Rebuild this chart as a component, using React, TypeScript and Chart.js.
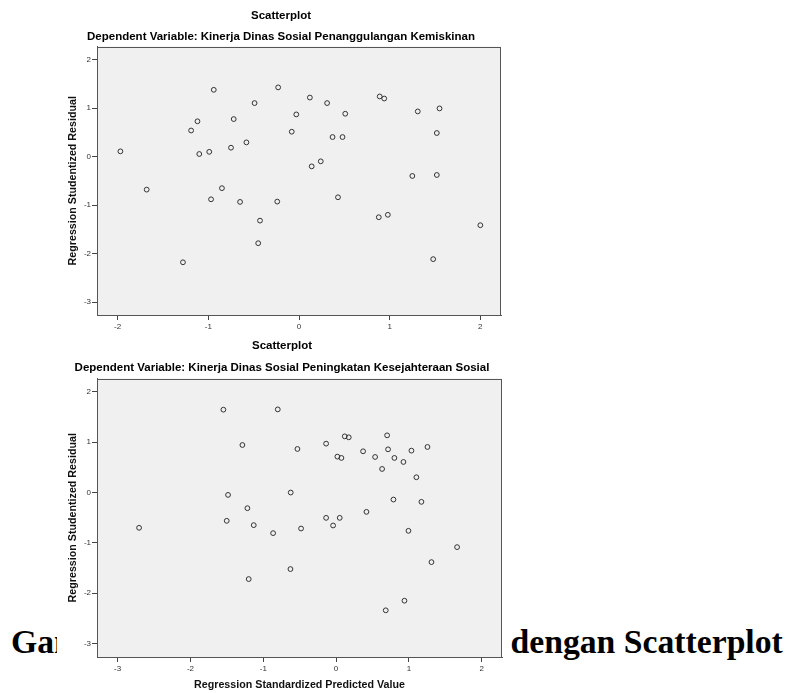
import React, { useEffect, useRef } from 'react';
import { Chart, registerables } from 'chart.js';

Chart.register(...registerables);

const MAIN_TITLE = 'Scatterplot';
const SUBTITLE_1 = 'Dependent Variable: Kinerja Dinas Sosial Penanggulangan Kemiskinan';
const SUBTITLE_2 = 'Dependent Variable: Kinerja Dinas Sosial Peningkatan Kesejahteraan Sosial';
const Y_TITLE = 'Regression Studentized Residual';
const X_TITLE = 'Regression Standardized Predicted Value';
const CAPTION_LEFT = 'Gambar';
const CAPTION_RIGHT = 'dengan Scatterplot';

// Chart 1 (Penanggulangan Kemiskinan)
const predicted1 = [
  -1.97, -1.68, -1.28, -1.19, -1.12, -1.10, -0.99, -0.97, -0.94, -0.85,
  -0.75, -0.72, -0.65, -0.58, -0.49, -0.43, -0.45, -0.24, -0.23, -0.08,
  -0.03, 0.12, 0.14, 0.24, 0.31, 0.37, 0.43, 0.48, 0.51, 0.88,
  0.89, 0.94, 0.98, 1.25, 1.31, 1.48, 1.52, 1.52, 1.55, 2.0,
];
const residual1 = [
  0.11, -0.68, -2.18, 0.54, 0.73, 0.055, 0.10, -0.88, 1.38, -0.65,
  0.185, 0.776, -0.934, 0.295, 1.106, -1.32, -1.786, -0.927, 1.43, 0.515,
  0.872, 1.22, -0.20, -0.096, 1.106, 0.405, -0.838, 0.405, 0.886, -1.25,
  1.243, 1.20, -1.20, -0.398, 0.934, -2.115, 0.488, -0.378, 0.996, -1.415,
];
const xTicks1 = [-2, -1, 0, 1, 2];
const yTicks1 = [-3, -2, -1, 0, 1, 2];

// Chart 2 (Peningkatan Kesejahteraan Sosial)
const predicted2 = [
  -2.706, -1.548, -1.484, -1.502, -1.287, -1.218, -1.200, -1.131, -0.865, -0.801,
  -0.627, -0.623, -0.531, -0.481, -0.137, -0.137, -0.041, 0.018, 0.050, 0.073,
  0.119, 0.174, 0.371, 0.417, 0.536, 0.632, 0.682, 0.701, 0.714, 0.788,
  0.801, 0.925, 0.939, 0.994, 1.035, 1.103, 1.172, 1.255, 1.310, 1.662,
];
const residual2 = [
  -0.704, 1.644, -0.05, -0.565, 0.942, -0.314, -1.723, -0.651, -0.81, 1.65,
  -1.524, -0.003, 0.863, -0.718, 0.969, -0.506, -0.658, 0.711, -0.506, 0.685,
  1.114, 1.095, 0.817, -0.387, 0.704, 0.466, -2.344, 1.134, 0.856, -0.142,
  0.685, 0.605, -2.153, -0.764, 0.830, 0.301, -0.188, 0.903, -1.386, -1.088,
];
const xTicks2 = [-3, -2, -1, 0, 1, 2];
const yTicks2 = [-3, -2, -1, 0, 1, 2];

const SANS = '"Liberation Sans", Arial, Helvetica, sans-serif';

const framePlugin = {
  id: 'spssFrame',
  beforeDraw(chart: any) {
    const { ctx, chartArea } = chart;
    ctx.save();
    ctx.fillStyle = '#ffffff';
    ctx.fillRect(0, 0, chart.width, chart.height);
    ctx.fillStyle = '#f0f0f0';
    ctx.fillRect(chartArea.left, chartArea.top, chartArea.right - chartArea.left, chartArea.bottom - chartArea.top);
    ctx.restore();
  },
  afterDraw(chart: any) {
    const { ctx, chartArea } = chart;
    ctx.save();
    ctx.strokeStyle = '#555555';
    ctx.lineWidth = 1;
    ctx.strokeRect(
      Math.round(chartArea.left) + 0.5,
      Math.round(chartArea.top) + 0.5,
      Math.round(chartArea.right - chartArea.left) - 1,
      Math.round(chartArea.bottom - chartArea.top) - 1,
    );
    ctx.restore();
  },
};

type Spec = {
  xs: number[];
  ys: number[];
  xMin: number;
  xMax: number;
  yMin: number;
  yMax: number;
  xTicks: number[];
  yTicks: number[];
  subtitle: string;
  titlePadTop: number;
  subPadTop: number;
  subPadBottom: number;
  yAxisWidth: number;
  yTitlePad: number;
  xAxisHeight: number;
  showXTitle: boolean;
  xTitlePadBottom: number;
  padRight: number;
  width: number;
  height: number;
};

function ScatterChart({ spec }: { spec: Spec }) {
  const ref = useRef<HTMLCanvasElement | null>(null);
  useEffect(() => {
    if (!ref.current) return;
    const data = spec.xs.map((x, i) => ({ x, y: spec.ys[i] }));
    const chart = new Chart(ref.current, {
      type: 'scatter',
      data: {
        datasets: [
          {
            data,
            pointStyle: 'circle',
            pointRadius: 2.4,
            pointBorderWidth: 1,
            pointBorderColor: '#333333',
            pointBackgroundColor: 'rgba(0,0,0,0)',
            showLine: false,
          } as any,
        ],
      },
      options: {
        responsive: false,
        animation: false,
        devicePixelRatio: 1,
        layout: { padding: { left: 0, top: 0, bottom: 0, right: spec.padRight } },
        scales: {
          x: {
            type: 'linear',
            position: 'bottom',
            min: spec.xMin,
            max: spec.xMax,
            afterBuildTicks: (s: any) => {
              s.ticks = spec.xTicks.map((v) => ({ value: v }));
            },
            afterFit: (s: any) => {
              s.height = spec.xAxisHeight;
            },
            grid: { drawOnChartArea: false, drawTicks: true, tickLength: 5, color: '#444', tickColor: '#444', lineWidth: 1 },
            border: { display: true, color: '#555', width: 1 },
            ticks: { font: { family: SANS, size: 8 }, color: '#333', padding: 2, maxRotation: 0, autoSkip: false },
            title: {
              display: spec.showXTitle,
              text: X_TITLE,
              color: '#111',
              font: { family: SANS, size: 10.7, weight: 'bold' },
              padding: { top: 0, bottom: spec.xTitlePadBottom },
            },
          },
          y: {
            type: 'linear',
            position: 'left',
            min: spec.yMin,
            max: spec.yMax,
            afterBuildTicks: (s: any) => {
              s.ticks = spec.yTicks.map((v) => ({ value: v }));
            },
            afterFit: (s: any) => {
              s.width = spec.yAxisWidth;
            },
            grid: { drawOnChartArea: false, drawTicks: true, tickLength: 5, color: '#444', tickColor: '#444', lineWidth: 1 },
            border: { display: true, color: '#555', width: 1 },
            ticks: { font: { family: SANS, size: 8 }, color: '#333', padding: 1, autoSkip: false },
            title: {
              display: true,
              text: Y_TITLE,
              color: '#111',
              font: { family: SANS, size: 10.7, weight: 'bold' },
              padding: { top: spec.yTitlePad, bottom: 0 },
            },
          },
        },
        plugins: {
          legend: { display: false },
          tooltip: { enabled: false },
          title: {
            display: true,
            text: MAIN_TITLE,
            color: '#000',
            font: { family: SANS, size: 11.5, weight: 'bold' },
            padding: { top: spec.titlePadTop, bottom: 0 },
          },
          subtitle: {
            display: true,
            text: spec.subtitle,
            color: '#000',
            font: { family: SANS, size: 11.5, weight: 'bold' },
            padding: { top: spec.subPadTop, bottom: spec.subPadBottom },
          },
        },
      } as any,
      plugins: [framePlugin],
    });
    return () => chart.destroy();
  }, [spec]);
  return (
    <canvas
      ref={ref}
      width={spec.width}
      height={spec.height}
      style={{ display: 'block', width: spec.width + 'px', height: spec.height + 'px' }}
    />
  );
}

const spec1: Spec = {
  xs: predicted1,
  ys: residual1,
  xMin: -2.228,
  xMax: 2.228,
  yMin: -3.268,
  yMax: 2.274,
  xTicks: xTicks1,
  yTicks: yTicks1,
  subtitle: SUBTITLE_1,
  titlePadTop: 8.6,
  subPadTop: 7.2,
  subPadBottom: 3.1,
  yAxisWidth: 36,
  yTitlePad: 5.3,
  xAxisHeight: 20,
  showXTitle: false,
  xTitlePadBottom: 0,
  padRight: 9,
  width: 449,
  height: 335,
};

const spec2: Spec = {
  xs: predicted2,
  ys: residual2,
  xMin: -3.284,
  xMax: 2.279,
  yMin: -3.272,
  yMax: 2.264,
  xTicks: xTicks2,
  yTicks: yTicks2,
  subtitle: SUBTITLE_2,
  titlePadTop: 4.3,
  subPadTop: 8.2,
  subPadBottom: 3.4,
  yAxisWidth: 35,
  yTitlePad: 4.3,
  xAxisHeight: 36,
  showXTitle: true,
  xTitlePadBottom: 1.6,
  padRight: 5,
  width: 445,
  height: 358,
};

const captionStyle: React.CSSProperties = {
  position: 'absolute',
  top: '625.3px',
  fontFamily: '"Liberation Serif", "Times New Roman", serif',
  fontWeight: 'bold',
  fontSize: '33.7px',
  lineHeight: '33.7px',
  color: '#000',
  whiteSpace: 'nowrap',
  margin: 0,
};

export default function App() {
  return (
    <div style={{ position: 'absolute', left: 0, top: 0, width: '788px', height: '693px', background: '#fff', overflow: 'hidden' }}>
      <div style={{ ...captionStyle, left: '11px' }}>{CAPTION_LEFT}</div>
      <div style={{ ...captionStyle, left: '510.5px' }}>{CAPTION_RIGHT}</div>
      <div style={{ position: 'absolute', left: '61px', top: '0px', width: '449px', height: '335px', background: '#fff', zIndex: 1 }}>
        <ScatterChart spec={spec1} />
      </div>
      <div style={{ position: 'absolute', left: '57px', top: '335px', width: '450px', height: '358px', background: '#fff', zIndex: 1 }}>
        <div style={{ position: 'absolute', left: '5px', top: 0 }}>
          <ScatterChart spec={spec2} />
        </div>
      </div>
    </div>
  );
}
